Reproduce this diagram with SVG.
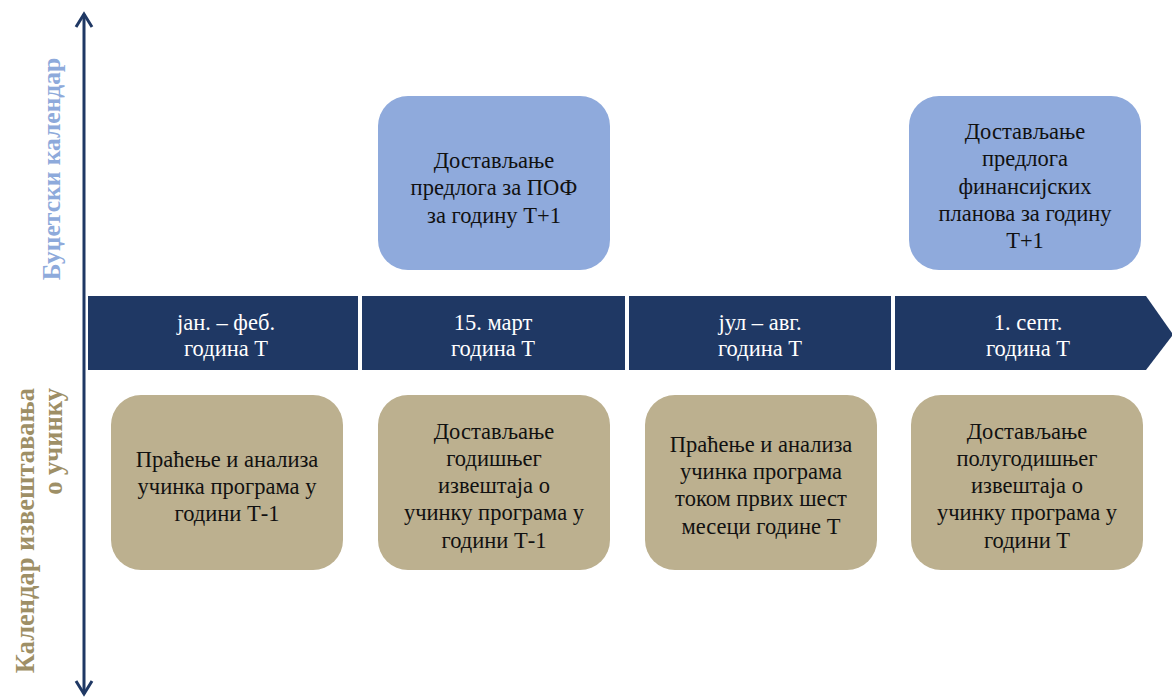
<svg xmlns="http://www.w3.org/2000/svg" width="1172" height="700" viewBox="0 0 1172 700">
<defs>
<marker id="ah" viewBox="0 0 18 20" refX="15" refY="10" markerWidth="18" markerHeight="20" markerUnits="userSpaceOnUse" orient="auto-start-reverse">
<path d="M2,2 L15,10 L2,18" fill="none" stroke="#1F3864" stroke-width="3"/>
</marker>
<style>
.t{font-family:"Liberation Serif","Times New Roman",serif;font-size:22.5px;text-anchor:middle;fill:#111}
.w{fill:#fff}
.blue{fill:#8FAADC}
.tan{fill:#BCB08F}
.seg{fill:#1F3864}
.lbl{font-family:"Liberation Serif","Times New Roman",serif;font-size:26.5px;font-weight:bold}
</style>
</defs>
<rect width="1172" height="700" fill="#fff"/>
<g id="connectors">
<line x1="84" y1="14" x2="84" y2="694" stroke="#1F3864" stroke-width="3" marker-start="url(#ah)" marker-end="url(#ah)"/>
</g>
<g id="label-budget">
<text class="lbl" fill="#8EAADB" text-anchor="middle" font-size="25.5" style="font-size:25.5px" transform="translate(60,169) rotate(-90)">Буџетски календар</text>
</g>
<g id="label-perf">
<text class="lbl" fill="#9E8F66" text-anchor="end" transform="translate(34,388) rotate(-90)">Календар извештавања</text>
<text class="lbl" fill="#9E8F66" text-anchor="end" transform="translate(62,388) rotate(-90)">о учинку</text>
</g>
<g id="band1">
<rect class="seg" x="88" y="296" width="270" height="74"/>
<text class="t w" x="226" y="330">јан. – феб.</text>
<text class="t w" x="226" y="356">година Т</text>
</g>
<g id="band2">
<rect class="seg" x="362" y="296" width="263" height="74"/>
<text class="t w" x="493" y="330">15. март</text>
<text class="t w" x="493" y="356">година Т</text>
</g>
<g id="band3">
<rect class="seg" x="629" y="296" width="262" height="74"/>
<text class="t w" x="760" y="330">јул – авг.</text>
<text class="t w" x="760" y="356">година Т</text>
</g>
<g id="band4">
<path class="seg" d="M895,296 L1146,296 L1172,333 L1172,336 L1146,370 L895,370 Z"/>
<text class="t w" x="1028" y="330">1. септ.</text>
<text class="t w" x="1028" y="356">година Т</text>
</g>
<g id="budget1">
<rect class="blue" x="378" y="96" width="232" height="174" rx="30"/>
<text class="t" x="494" y="168">Достављање</text>
<text class="t" x="494" y="195">предлога за ПОФ</text>
<text class="t" x="494" y="223">за годину Т+1</text>
</g>
<g id="budget2">
<rect class="blue" x="909" y="96" width="232" height="174" rx="30"/>
<text class="t" x="1025" y="139">Достављање</text>
<text class="t" x="1025" y="166">предлога</text>
<text class="t" x="1025" y="194">финансијских</text>
<text class="t" x="1025" y="221">планова за годину</text>
<text class="t" x="1025" y="248">Т+1</text>
</g>
<g id="perf1">
<rect class="tan" x="111" y="395" width="232" height="175" rx="30"/>
<text class="t" x="227" y="467">Праћење и анализа</text>
<text class="t" x="227" y="494">учинка програма у</text>
<text class="t" x="227" y="521">години Т-1</text>
</g>
<g id="perf2">
<rect class="tan" x="378" y="395" width="232" height="175" rx="30"/>
<text class="t" x="494" y="439">Достављање</text>
<text class="t" x="494" y="466">годишњег</text>
<text class="t" x="494" y="493">извештаја о</text>
<text class="t" x="494" y="520">учинку програма у</text>
<text class="t" x="494" y="548">години Т-1</text>
</g>
<g id="perf3">
<rect class="tan" x="645" y="395" width="232" height="175" rx="30"/>
<text class="t" x="761" y="452">Праћење и анализа</text>
<text class="t" x="761" y="479">учинка програма</text>
<text class="t" x="761" y="506">током првих шест</text>
<text class="t" x="761" y="534">месеци године Т</text>
</g>
<g id="perf4">
<rect class="tan" x="911" y="395" width="232" height="175" rx="30"/>
<text class="t" x="1027" y="439">Достављање</text>
<text class="t" x="1027" y="466">полугодишњег</text>
<text class="t" x="1027" y="493">извештаја о</text>
<text class="t" x="1027" y="520">учинку програма у</text>
<text class="t" x="1027" y="548">години Т</text>
</g>
</svg>
